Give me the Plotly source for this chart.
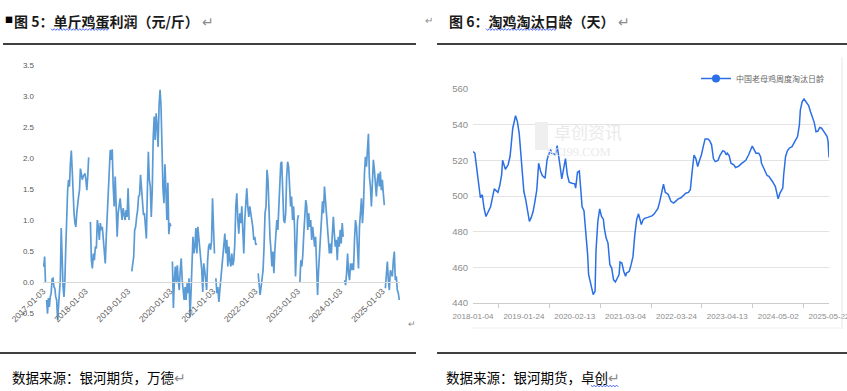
import numpy as np
import pandas as pd
import plotly.graph_objects as go

W, H = 847, 391

# ---------------- Left chart: 单斤鸡蛋利润（元/斤） ----------------
# segments separated by Spring-Festival gaps (start date, end date, values)
profit_seg_start = ['2017-01-03', '2017-02-03', '2018-02-15', '2019-02-06', '2020-01-22',
                    '2021-01-30', '2022-01-29', '2023-01-23', '2024-02-12', '2025-01-28']
profit_seg_end = ['2017-01-24', '2018-01-31', '2019-01-14', '2020-01-08', '2021-01-18',
                  '2022-01-17', '2023-01-11', '2024-01-31', '2025-01-19', '2025-05-28']
profit_2017a = [0.30, 0.25, 0.41, 0.00]
profit_2017 = [-0.29, -0.51, -0.26, -0.40, -0.24, -0.18, 0.05, 0.06, -0.08, -0.10, -0.24, -0.29, -0.61,
               -0.40, -0.18, 0.03, 0.87, 0.14, -0.08, -0.24, 0.03, 0.57, 1.27, 1.48, 1.65, 1.54, 1.91,
               2.12, 1.81, 1.27, 1.11, 0.95, 0.89, 1.11, 1.32, 1.38, 1.48, 1.83, 1.75, 1.65, 1.70, 1.73,
               1.75, 1.65, 1.48, 1.70, 2.01]
profit_2018 = [0.97, 0.35, 0.22, 0.46, 0.35, 0.57, 0.54, 1.00, 0.89, 0.68, 0.95, 0.84, 0.89, 0.68, 0.57,
               0.30, 0.73, 1.05, 1.32, 1.65, 2.13, 1.97, 2.14, 1.54, 1.22, 1.70, 1.27, 0.73, 1.11, 1.22,
               1.35, 1.16, 1.00, 1.19, 1.05, 1.00, 1.16, 1.05, 1.51, 1.00]
profit_2019 = [0.17, 0.35, 0.41, 0.84, 0.89, 1.05, 1.16, 1.38, 1.40, 1.73, 1.48, 1.22, 1.08, 1.11, 0.89,
               0.70, 1.48, 2.10, 1.65, 1.54, 1.05, 1.48, 2.34, 2.67, 2.29, 2.72, 2.51, 2.18, 2.85, 3.10,
               2.83, 2.00, 1.50, 1.27, 1.90, 1.50, 1.00, 1.60, 0.77, 0.95, 0.90]
profit_2020 = [0.33, -0.42, 0.03, 0.25, -0.02, 0.27, 0.03, -0.13, 0.19, 0.38, 0.03, -0.18, -0.29, -0.08,
               -0.29, -0.02, -0.18, 0.06, -0.56, -0.18, 0.25, 0.73, 0.46, 0.57, 0.87, 0.46, 0.89, 0.73,
               0.46, 0.30, 0.19, -0.16, 0.30, 0.19, 0.03, -0.13, 0.35, 0.57, 0.62, 0.52, 0.65, 1.35,
               0.89, 0.46]
profit_2021 = [0.06, -0.18, -0.08, -0.32, -0.13, 0.03, 0.25, 0.35, 0.57, 0.78, 0.46, 0.68, 0.25, 0.57,
               0.35, 0.25, 0.46, 0.27, 0.35, 0.62, 1.22, 1.43, 1.00, 0.78, 1.11, 0.95, 1.22, 0.68, 0.46,
               1.00, 1.38, 1.51, 1.22, 1.05, 1.22, 1.11, 0.95, 0.89, 0.68, 0.73, 0.60, 0.62]
profit_2022 = [0.14, -0.02, -0.21, -0.08, 0.06, 0.19, 0.57, 1.11, 1.22, 1.81, 1.65, 1.11, 0.73, 0.52,
               0.25, 0.49, 0.14, 0.52, 0.73, 1.00, 0.84, 1.22, 1.54, 1.91, 1.94, 1.48, 1.00, 0.95, 1.11,
               1.70, 1.94, 1.86, 1.59, 1.22, 1.38, 1.00, 1.22, 0.89, 0.09, 0.68, 1.00, 1.08]
profit_2023 = [0.00, 0.35, 0.25, 0.44, 0.78, 1.11, 1.32, 1.22, 0.84, 1.11, 0.89, 1.00, 0.68, 0.89, 0.73,
               0.57, 0.73, 0.14, -0.21, 0.19, 0.46, 0.73, 1.00, 1.30, 1.11, 1.54, 1.32, 1.11, 0.95, 0.68,
               0.46, 0.62, 0.46, 0.78, 1.05, 0.78, 0.57, 0.68, 0.35, 0.73, 0.57, 0.84, 0.62, 0.95, 0.73]
profit_2024 = [0.03, -0.05, 0.14, 0.46, 0.14, 0.03, 0.30, 0.19, 0.30, 0.19, 0.68, 1.00, 0.89, 0.57, 0.22,
               0.89, 1.22, 1.35, 0.95, 1.22, 1.75, 2.02, 1.86, 2.08, 2.39, 1.70, 1.54, 1.22, 1.59, 1.97,
               1.81, 1.65, 1.38, 1.65, 1.75, 1.54, 1.78, 1.48, 1.65, 1.43, 1.24]
profit_2025 = [-0.10, 0.14, 0.33, 0.03, -0.13, 0.19, 0.14, 0.09, 0.35, 0.49, 0.03, 0.09, -0.13, -0.18,
               -0.29]
profit_segments = [profit_2017a, profit_2017, profit_2018, profit_2019, profit_2020,
                   profit_2021, profit_2022, profit_2023, profit_2024, profit_2025]
profit_xticks = ['2017-01-03', '2018-01-03', '2019-01-03', '2020-01-03', '2021-01-03',
                 '2022-01-03', '2023-01-03', '2024-01-03', '2025-01-03']
profit_yticks = [-0.5, 0.0, 0.5, 1.0, 1.5, 2.0, 2.5, 3.0, 3.5]

# ---------------- Right chart: 淘鸡淘汰日龄（天） ----------------
age_start = '2018-01-04'
age_week = [0, 2, 4, 5, 8, 10, 12, 14, 17, 19, 21, 23, 25, 27, 29, 31, 32, 35, 38, 40, 41, 43, 46, 48,
            50, 52, 53, 55, 57, 59, 61, 63, 65, 67, 69, 71, 73, 75, 78, 80, 81, 84, 85, 88, 89, 91, 93,
            94, 96, 98, 100, 102, 104, 107, 110, 111, 113, 115, 116, 118, 120, 122, 124, 125, 128, 130,
            132, 133, 135, 137, 139, 141, 142, 144, 146, 148, 150, 152, 154, 156, 158, 159, 161, 163,
            165, 166, 169, 171, 173, 175, 177, 179, 181, 182, 184, 186, 189, 191, 194, 196, 199, 200,
            202, 204, 206, 208, 211, 214, 217, 219, 222, 225, 227, 230, 233, 235, 237, 239, 241, 243,
            245, 247, 249, 251, 254, 256, 258, 260, 262, 265, 267, 270, 272, 274, 275, 277, 279, 282,
            284, 287, 290, 292, 295, 298, 300, 302, 304, 306, 309, 311, 312, 314, 316, 318, 320, 322,
            324, 327, 328, 330, 332, 335, 336, 338, 340, 342, 345, 347, 349, 351, 353, 354, 356, 358,
            360, 363, 365, 367, 369, 371, 373, 375, 377, 379, 381, 383, 384, 385]
age_days = [524.9, 524.0, 515.6, 511.0, 499.0, 500.7, 493.0, 488.5, 492.0, 494.0, 499.0, 504.0, 503.0,
            502.0, 506.0, 512.0, 520.0, 515.0, 517.5, 522.0, 527.0, 538.0, 545.0, 541.7, 535.0, 520.0,
            513.7, 502.5, 498.0, 492.0, 485.7, 488.0, 491.3, 497.0, 503.5, 518.4, 514.0, 511.5, 510.0,
            520.0, 522.0, 526.0, 524.0, 523.6, 523.0, 528.3, 522.0, 517.5, 509.6, 516.0, 521.0, 511.9,
            507.8, 507.2, 506.8, 504.4, 513.4, 514.0, 508.0, 494.0, 491.7, 480.0, 467.0, 456.0, 448.4,
            444.7, 446.5, 469.0, 485.7, 492.8, 488.5, 487.0, 482.0, 476.4, 473.6, 461.5, 459.6, 453.0,
            451.8, 454.0, 456.0, 463.0, 462.4, 457.8, 455.0, 456.8, 457.8, 461.5, 466.0, 478.3, 486.7,
            490.0, 485.7, 484.0, 486.7, 487.6, 488.0, 488.5, 489.0, 490.0, 492.3, 493.0, 497.0, 502.5,
            506.6, 502.0, 501.0, 497.0, 496.0, 497.0, 498.4, 499.0, 500.3, 501.6, 502.0, 503.5, 513.7,
            523.0, 521.0, 516.5, 520.0, 523.0, 527.7, 532.0, 532.0, 531.0, 528.7, 521.0, 519.3, 520.0,
            522.7, 525.3, 525.0, 523.0, 524.0, 522.7, 518.4, 517.5, 516.0, 516.6, 518.0, 519.0, 520.0,
            523.0, 525.9, 528.0, 526.0, 524.0, 524.0, 522.0, 518.4, 516.0, 513.4, 511.5, 511.0, 509.6,
            508.0, 505.3, 502.5, 498.4, 501.6, 504.4, 511.9, 522.0, 525.3, 526.8, 527.7, 530.0, 531.5,
            533.3, 540.0, 548.2, 553.0, 554.4, 553.0, 550.7, 547.3, 544.5, 541.3, 536.0, 536.4, 538.4,
            538.0, 536.5, 535.2, 533.3, 530.5, 521.6]
age_xticks = ['2018-01-04', '2019-01-24', '2020-02-13', '2021-03-04', '2022-03-24',
              '2023-04-13', '2024-05-02', '2025-05-22']
age_series_name = '中国老母鸡周度淘汰日龄'

# ---------------- build series ----------------
px_x, px_y = [], []
for s, e, vals in zip(profit_seg_start, profit_seg_end, profit_segments):
    d = pd.date_range(s, e, periods=len(vals))
    px_x += list(d.strftime('%Y-%m-%d %H:%M'))
    px_y += vals
    px_x.append(None)
    px_y.append(None)

age_x = pd.Timestamp(age_start) + pd.to_timedelta(np.array(age_week) * 7, unit='D')
minor_x = [pd.Timestamp(t) + pd.Timedelta(days=192.5) for t in age_xticks[:-1]]


def fx(p):
    return p / W


def fy(p):
    return 1 - p / H


fig = go.Figure()
fig.add_trace(go.Scatter(x=px_x, y=px_y, mode='lines', xaxis='x', yaxis='y',
                         line=dict(color='#5B9BD5', width=1.7), connectgaps=False,
                         showlegend=False, hoverinfo='skip'))
fig.add_trace(go.Scatter(x=age_x, y=age_days, mode='lines', xaxis='x2', yaxis='y2',
                         line=dict(color='#2B6FE6', width=1.5), showlegend=False, name=age_series_name))
fig.add_trace(go.Scatter(x=[None], y=[None], mode='lines+markers', xaxis='x2', yaxis='y2',
                         line=dict(color='#2B6FE6', width=1.5), marker=dict(size=8, color='#2B6FE6'),
                         name=age_series_name, showlegend=True))

# left axes geometry
ly_range = [-0.75, 3.5]
ly_dom = [fy(328.5), fy(65)]
x_pos = ly_dom[0] + (0 - ly_range[0]) / (ly_range[1] - ly_range[0]) * (ly_dom[1] - ly_dom[0])

lab = 'Liberation Sans, Arial, sans-serif'
cjk = 'Noto Sans CJK SC'

fig.update_layout(
    width=W, height=H, margin=dict(l=0, r=0, t=0, b=0, autoexpand=False),
    paper_bgcolor='white', plot_bgcolor='white',
    xaxis=dict(domain=[fx(43), fx(400)], type='date', range=['2017-01-03', '2025-06-03'],
               anchor='free', position=x_pos, showline=True, linecolor='#D9D9D9', linewidth=1,
               showgrid=False, zeroline=False, ticks='', tickmode='array', automargin=False,
               tickvals=profit_xticks, ticktext=profit_xticks, tickangle=-45,
               ticklabeloverflow='allow',
               tickfont=dict(family=lab, size=8.5, color='#595959')),
    yaxis=dict(domain=ly_dom, range=ly_range, anchor='x', showgrid=False, zeroline=False,
               showline=False, ticks='', tickmode='array', tickvals=profit_yticks, automargin=False,
               ticktext=['%.1f' % v for v in profit_yticks], ticklabelstandoff=8,
               tickfont=dict(family=lab, size=8, color='#595959')),
    xaxis2=dict(domain=[fx(473), fx(829)], anchor='y2', type='date', automargin=False,
                range=['2018-01-04', '2025-05-22'], showline=True, linecolor='#CCCCCC',
                showgrid=False, zeroline=False, ticks='', tickmode='array', tickangle=0,
                tickvals=age_xticks, ticktext=age_xticks, ticklabelstandoff=5,
                ticklabeloverflow='allow',
                minor=dict(tickmode='array', tickvals=minor_x, ticks='outside', ticklen=4,
                           tickcolor='#CCCCCC', showgrid=False),
                tickfont=dict(family=lab, size=8, color='#8C8C8C')),
    yaxis2=dict(domain=[fy(303), fy(89)], anchor='x2', range=[440, 560], tickmode='linear',
                tick0=440, dtick=20, showgrid=True, gridcolor='#E3E3E3', gridwidth=1,
                automargin=False,
                zeroline=False, showline=False, ticks='', ticklabelstandoff=4,
                tickfont=dict(family=lab, size=9.5, color='#8C8C8C')),
    legend=dict(x=fx(829), xanchor='right', y=fy(64), yanchor='top', bgcolor='rgba(0,0,0,0)',
                font=dict(family=cjk, size=8, color='#666666'), itemwidth=30,
                tracegroupgap=0),
)

ann = []
gray = '#8C8C8C'
# titles
ann.append(dict(x=fx(3), y=fy(20), text='■', font=dict(family=cjk, size=8, color='black')))
ann.append(dict(x=fx(12), y=fy(21),
                text='<b>图 5：单斤鸡蛋利润（元/斤）</b><span style="color:%s"> ↵</span>' % gray,
                font=dict(family=cjk, size=14, color='#1a1a1a')))
ann.append(dict(x=fx(423), y=fy(20), text='↵', font=dict(family=cjk, size=10, color=gray)))
ann.append(dict(x=fx(447), y=fy(21),
                text='<b>图 6：淘鸡淘汰日龄（天）</b><span style="color:%s"> ↵</span>' % gray,
                font=dict(family=cjk, size=14, color='#1a1a1a')))
# sources
ann.append(dict(x=fx(10), y=fy(377),
                text='数据来源：银河期货，万德<span style="color:%s">↵</span>' % gray,
                font=dict(family=cjk, size=13.5, color='black')))
ann.append(dict(x=fx(444), y=fy(377),
                text='数据来源：银河期货，卓创<span style="color:%s">↵</span>' % gray,
                font=dict(family=cjk, size=13.5, color='black')))
ann.append(dict(x=fx(406), y=fy(323), text='↵', font=dict(family=cjk, size=9, color=gray)))
# watermark
ann.append(dict(x=fx(552), y=fy(131), text='卓创资讯', font=dict(family=cjk, size=17, color='#EAEAEA')))
ann.append(dict(x=fx(545), y=fy(152), text='SCI99.COM',
                font=dict(family='Liberation Serif, serif', size=12.5, color='#EAEAEA')))
for a in ann:
    a.update(xref='paper', yref='paper', xanchor='left', yanchor='middle', showarrow=False)
fig.update_layout(annotations=ann)


def wavy(x0, x1, yc):
    # spell-check style wavy underline (decoration)
    pts = []
    k = 0
    x = x0
    while x <= x1:
        pts.append('%s%.5f,%.5f' % ('M' if k == 0 else 'L', fx(x), fy(yc + (0.9 if k % 2 else -0.9))))
        x += 1.6
        k += 1
    return dict(type='path', path=' '.join(pts), line=dict(color='#3D5AFE', width=0.9))


shapes = [
    dict(type='line', x0=fx(3), x1=fx(416), y0=fy(44), y1=fy(44), line=dict(color='black', width=1.3)),
    dict(type='line', x0=fx(437), x1=fx(847), y0=fy(44), y1=fy(44), line=dict(color='black', width=1.3)),
    dict(type='line', x0=fx(0), x1=fx(416), y0=fy(353), y1=fy(353), line=dict(color='black', width=1.3)),
    dict(type='line', x0=fx(437), x1=fx(847), y0=fy(353), y1=fy(353), line=dict(color='black', width=1.3)),
    dict(type='line', x0=fx(842), x1=fx(842), y0=fy(57), y1=fy(329), line=dict(color='#E6E6E6', width=1)),
    dict(type='line', x0=fx(473), x1=fx(842), y0=fy(328), y1=fy(328), line=dict(color='#EEEEEE', width=1)),
    dict(type='rect', x0=fx(535), x1=fx(548), y0=fy(150), y1=fy(122), line=dict(width=0),
         fillcolor='#EFEFEF'),
    wavy(51, 109, 29.5),
    wavy(486, 557, 29.5),
    wavy(591, 619, 386),
]
for s in shapes:
    s.update(xref='paper', yref='paper')
fig.update_layout(shapes=shapes)

fig.write_html('out.html', config={'displayModeBar': False},
               post_script="document.body.style.margin='0px';document.body.style.padding='0px';")
